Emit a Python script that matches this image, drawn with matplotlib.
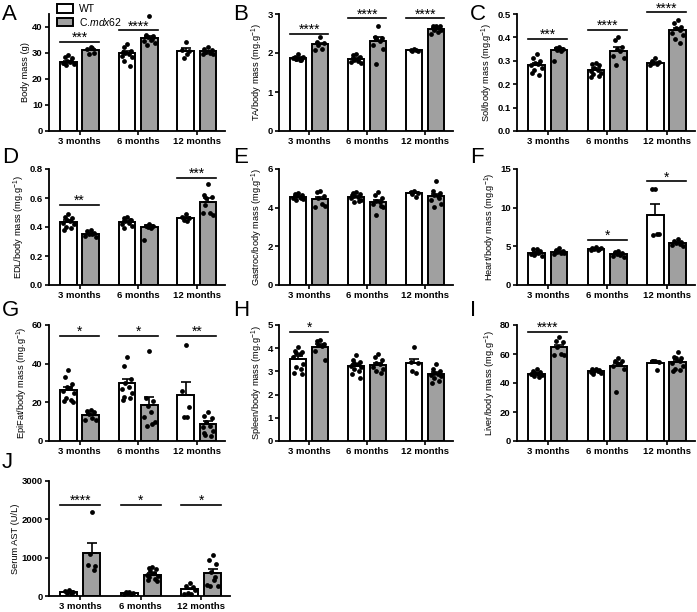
import numpy as np
import matplotlib
matplotlib.use('Agg')
import matplotlib.pyplot as plt
from matplotlib.patches import Patch

plt.rcParams['font.family'] = ['Liberation Sans', 'DejaVu Sans']
plt.rcParams['mathtext.fontset'] = 'custom'
plt.rcParams['mathtext.rm'] = 'Liberation Sans'
plt.rcParams['mathtext.it'] = 'Liberation Sans:italic'

groups = ['3 months', '6 months', '12 months']
wt_color = 'white'
ko_color = '#a0a0a0'

# A - body mass
body_wt = [[29.3, 28.5, 28.0, 27.0, 26.5, 26.0, 25.8, 25.5, 26.8, 26.2],
           [33.5, 32.2, 30.6, 30.0, 29.6, 29.0, 28.5, 27.0, 25.0, 30.5],
           [34.2, 31.0, 30.8, 28.2, 29.6]]
body_ko = [[32.2, 31.6, 30.0, 29.6, 31.8],
           [44.2, 37.0, 36.5, 36.0, 35.0, 34.5, 34.0, 33.0, 35.5],
           [32.5, 31.5, 31.0, 30.5, 30.0, 29.8, 29.5, 30.2]]
body_wt_mean = [26.7, 30.0, 30.8]
body_ko_mean = [31.1, 35.6, 30.6]

# B - TA
ta_wt = [[1.98, 1.90, 1.88, 1.85, 1.83, 1.87, 1.90, 1.85, 1.82],
         [1.98, 1.95, 1.90, 1.85, 1.80, 1.78, 1.75, 1.82, 1.88],
         [2.10, 2.08, 2.06, 2.05, 2.07]]
ta_ko = [[2.40, 2.28, 2.25, 2.20, 2.10, 2.08],
         [2.70, 2.40, 2.38, 2.35, 2.30, 2.20, 2.10, 1.72],
         [2.70, 2.70, 2.68, 2.60, 2.55, 2.50, 2.60, 2.62]]
ta_wt_mean = [1.87, 1.84, 2.07]
ta_ko_mean = [2.22, 2.31, 2.61]

# C - Sol
sol_wt = [[0.33, 0.31, 0.30, 0.29, 0.285, 0.28, 0.27, 0.26, 0.24, 0.25],
          [0.29, 0.285, 0.28, 0.27, 0.26, 0.255, 0.25, 0.245, 0.235, 0.23],
          [0.31, 0.30, 0.295, 0.29, 0.285, 0.28]]
sol_ko = [[0.36, 0.355, 0.35, 0.345, 0.34, 0.30],
          [0.40, 0.39, 0.36, 0.35, 0.34, 0.32, 0.31, 0.28],
          [0.475, 0.46, 0.445, 0.44, 0.43, 0.42, 0.41, 0.395, 0.375]]
sol_wt_mean = [0.283, 0.261, 0.291]
sol_ko_mean = [0.345, 0.343, 0.43]

# D - EDL
edl_wt = [[0.49, 0.47, 0.46, 0.45, 0.44, 0.43, 0.42, 0.40, 0.39, 0.38],
          [0.47, 0.46, 0.45, 0.44, 0.43, 0.42, 0.41, 0.39, 0.45],
          [0.49, 0.47, 0.46, 0.45, 0.44]]
edl_ko = [[0.38, 0.37, 0.36, 0.355, 0.35, 0.34, 0.33],
          [0.42, 0.41, 0.41, 0.40, 0.39, 0.31],
          [0.70, 0.62, 0.61, 0.60, 0.50, 0.50, 0.48, 0.55]]
edl_wt_mean = [0.435, 0.435, 0.46]
edl_ko_mean = [0.355, 0.40, 0.57]

# E - Gastroc
gas_wt = [[4.75, 4.70, 4.65, 4.60, 4.55, 4.50, 4.45, 4.40, 4.50],
          [4.80, 4.75, 4.70, 4.60, 4.55, 4.50, 4.40, 4.30, 4.35, 4.65],
          [4.85, 4.80, 4.75, 4.70, 4.55]]
gas_ko = [[4.85, 4.80, 4.60, 4.50, 4.20, 4.05, 4.10],
          [4.80, 4.65, 4.50, 4.35, 4.30, 4.20, 4.05, 3.60, 4.10],
          [5.40, 4.85, 4.75, 4.65, 4.60, 4.40, 4.20, 4.05, 4.50]]
gas_wt_mean = [4.55, 4.55, 4.75]
gas_ko_mean = [4.45, 4.28, 4.60]

# F - Heart
heart_wt = [[4.7, 4.6, 4.4, 4.2, 4.1, 4.0, 3.8, 3.9, 4.3],
            [4.9, 4.8, 4.7, 4.6, 4.5, 4.55, 4.75],
            [12.4, 12.4, 6.6, 6.5, 6.6]]
heart_ko = [[4.8, 4.5, 4.4, 4.3, 4.2, 4.0, 4.1],
            [4.4, 4.3, 4.2, 4.0, 3.9, 3.8, 3.6],
            [5.9, 5.7, 5.5, 5.4, 5.3, 5.2, 5.1]]
heart_wt_mean = [4.2, 4.65, 9.0]
heart_ko_mean = [4.3, 4.0, 5.4]

# G - EpiFat
epi_wt = [[36.5, 33.0, 29.5, 28.0, 27.5, 26.0, 25.0, 22.5, 21.0, 20.5, 20.0],
          [43.3, 39.0, 32.0, 30.0, 28.0, 27.0, 25.0, 23.0, 22.0, 21.0],
          [49.6, 26.0, 17.4, 12.2, 12.2]]
epi_ko = [[16.0, 15.5, 15.0, 14.0, 12.0, 11.0, 11.0],
          [46.5, 22.0, 20.5, 18.0, 15.0, 12.5, 10.0, 8.0, 9.0],
          [15.0, 13.0, 12.0, 10.0, 8.0, 7.0, 5.0, 3.0, 2.5, 4.0]]
epi_wt_mean = [26.5, 30.0, 23.7]
epi_ko_mean = [13.3, 18.7, 8.8]

# H - Spleen
spl_wt = [[4.05, 3.90, 3.85, 3.80, 3.75, 3.60, 3.30, 3.20, 3.10, 2.95, 2.90],
          [3.70, 3.50, 3.40, 3.35, 3.30, 3.25, 3.20, 3.10, 3.00, 2.90, 2.70],
          [4.05, 3.40, 3.35, 3.00, 2.95]]
spl_ko = [[4.35, 4.30, 4.20, 4.15, 4.10, 3.90, 3.50],
          [3.75, 3.60, 3.50, 3.35, 3.30, 3.20, 3.10, 3.00, 2.95],
          [3.30, 3.10, 3.00, 2.95, 2.90, 2.85, 2.80, 2.70, 2.60, 2.50]]
spl_wt_mean = [3.55, 3.25, 3.35]
spl_ko_mean = [4.05, 3.28, 2.88]

# I - Liver
liv_wt = [[50.0, 48.0, 47.5, 47.0, 46.5, 46.0, 45.5, 45.0, 44.0, 46.0],
          [50.0, 49.5, 49.0, 48.5, 48.0, 47.5, 47.0, 46.5, 48.0],
          [55.5, 55.0, 54.5, 55.0, 49.0]]
liv_ko = [[71.5, 69.0, 68.0, 65.0, 60.0, 59.5, 59.0],
          [57.0, 55.5, 55.0, 54.0, 53.0, 52.0, 50.0, 34.0],
          [61.5, 58.0, 57.5, 57.0, 55.0, 54.0, 52.0, 50.0, 49.0, 48.0]]
liv_wt_mean = [46.5, 48.3, 54.1]
liv_ko_mean = [64.5, 51.5, 54.5]

# J - Serum AST
ast_wt = [[150, 120, 100, 90, 80],
          [110, 100, 90, 80, 60, 40],
          [330, 270, 240, 80, 60, 40, 150]]
ast_ko = [[2200, 800, 780, 1100, 680],
          [750, 720, 700, 650, 600, 550, 530, 500, 450, 420, 400],
          [1080, 950, 830, 620, 420, 280, 250, 270, 500]]
ast_wt_mean = [110, 80, 170]
ast_ko_mean = [1110, 560, 590]

ylab_a = 'Body mass (g)'
ylab_b = 'TA/body mass (mg.g$^{-1}$)'
ylab_c = 'Sol/body mass (mg.g$^{-1}$)'
ylab_d = 'EDL/body mass (mg.g$^{-1}$)'
ylab_e = 'Gastroc/body mass (mg.g$^{-1}$)'
ylab_f = 'Heart/body mass (mg.g$^{-1}$)'
ylab_g = 'EpiFat/body mass (mg.g$^{-1}$)'
ylab_h = 'Spleen/body mass (mg.g$^{-1}$)'
ylab_i = 'Liver/body mass (mg.g$^{-1}$)'
ylab_j = 'Serum AST (U/L)'

# significance: (group index, star text, y of line)
sig_a = [(0, '***', 34.4), (1, '****', 38.7)]
sig_b = [(0, '****', 2.48), (1, '****', 2.89), (2, '****', 2.89)]
sig_c = [(0, '***', 0.392), (1, '****', 0.432), (2, '****', 0.507)]
sig_d = [(0, '**', 0.553), (2, '***', 0.737)]
sig_e = []
sig_f = [(1, '*', 5.8), (2, '*', 13.4)]
sig_g = [(0, '*', 54.3), (1, '*', 54.3), (2, '**', 54.3)]
sig_h = [(0, '*', 4.71)]
sig_i = [(0, '****', 75.4)]
sig_j = [(0, '****', 2380), (1, '*', 2380), (2, '*', 2380)]

panels = [
    ('A', body_wt, body_ko, body_wt_mean, body_ko_mean, ylab_a, (0, 45), [0, 10, 20, 30, 40], None, sig_a),
    ('B', ta_wt, ta_ko, ta_wt_mean, ta_ko_mean, ylab_b, (0, 3), [0, 1, 2, 3], None, sig_b),
    ('C', sol_wt, sol_ko, sol_wt_mean, sol_ko_mean, ylab_c, (0, 0.5), [0, 0.1, 0.2, 0.3, 0.4, 0.5], '%.1f', sig_c),
    ('D', edl_wt, edl_ko, edl_wt_mean, edl_ko_mean, ylab_d, (0, 0.8), [0, 0.2, 0.4, 0.6, 0.8], '%.1f', sig_d),
    ('E', gas_wt, gas_ko, gas_wt_mean, gas_ko_mean, ylab_e, (0, 6), [0, 2, 4, 6], None, sig_e),
    ('F', heart_wt, heart_ko, heart_wt_mean, heart_ko_mean, ylab_f, (0, 15), [0, 5, 10, 15], None, sig_f),
    ('G', epi_wt, epi_ko, epi_wt_mean, epi_ko_mean, ylab_g, (0, 60), [0, 20, 40, 60], None, sig_g),
    ('H', spl_wt, spl_ko, spl_wt_mean, spl_ko_mean, ylab_h, (0, 5), [0, 1, 2, 3, 4, 5], None, sig_h),
    ('I', liv_wt, liv_ko, liv_wt_mean, liv_ko_mean, ylab_i, (0, 80), [0, 20, 40, 60, 80], None, sig_i),
    ('J', ast_wt, ast_ko, ast_wt_mean, ast_ko_mean, ylab_j, (0, 3000), [0, 1000, 2000, 3000], None, sig_j),
]

W, H = 697, 612
fig = plt.figure(figsize=(W / 100, H / 100), dpi=100)

col_left = [49, 279, 517]
col_w = [176, 174, 178]
row_top = [14, 169, 325, 481]
row_h = [117, 116, 116, 115]

pattern = [0, -0.06, 0.06, -0.03, 0.03, -0.09, 0.09, -0.045, 0.045, -0.075, 0.075, 0.015]

def spread(n):
    return np.array(pattern[:n])

bw = 0.28
off = 0.19
for k, (letter, wt, ko, wtm, kom, ylab, ylim, yticks, fmt, sig) in enumerate(panels):
    r, c = divmod(k, 3)
    left = col_left[c]
    w = col_w[c] if letter != 'J' else 181
    ax = fig.add_axes([left / W, 1 - (row_top[r] + row_h[r]) / H, w / W, row_h[r] / H])
    x = np.arange(3)
    for g in range(3):
        for pts, m, xc, col in [(wt[g], wtm[g], x[g] - off, wt_color), (ko[g], kom[g], x[g] + off, ko_color)]:
            pts = np.array(pts, dtype=float)
            sem = pts.std(ddof=1) / np.sqrt(len(pts))
            ax.bar(xc, m, width=bw, color=col, edgecolor='black', linewidth=1.4, zorder=2)
            ax.errorbar(xc, m, yerr=[[0], [sem]], fmt='none', ecolor='black',
                        elinewidth=1.2, capsize=3.5, capthick=1.2, zorder=3)
            ax.scatter(xc + spread(len(pts)), pts, s=12, color='black', zorder=4, clip_on=False,
                       linewidths=0)
    for g, txt, yl in sig:
        x0 = x[g] - off - bw / 2
        x1 = x[g] + off + bw / 2
        ax.plot([x0, x1], [yl, yl], color='black', lw=1.2, clip_on=False, zorder=5)
        ax.annotate(txt, (x[g], yl), xytext=(0, 0), textcoords='offset points',
                    ha='center', va='baseline', fontsize=10, annotation_clip=False)
    ax.set_xlim(-0.52, 2.48)
    ax.set_ylim(*ylim)
    ax.set_yticks(yticks)
    if fmt:
        ax.set_yticklabels([fmt % t for t in yticks])
    ax.set_xticks(x)
    ax.set_xticklabels(groups)
    ax.set_ylabel(ylab, fontsize=6.7, labelpad=1.5)
    for lab in ax.get_xticklabels() + ax.get_yticklabels():
        lab.set_fontweight('bold')
        lab.set_fontsize(6.8)
    ax.tick_params(axis='both', width=1.2, length=3, pad=1.5)
    for s in ['top', 'right']:
        ax.spines[s].set_visible(False)
    for s in ['left', 'bottom']:
        ax.spines[s].set_linewidth(1.3)
    lx = [2, 233, 470][c] / W
    ly = 1 - ([4, 147, 300, 452][r]) / H
    fig.text(lx, ly, letter, fontsize=16, ha='left', va='top')
    if letter == 'A':
        handles = [Patch(facecolor=wt_color, edgecolor='black', linewidth=1.4, label='WT'),
                   Patch(facecolor=ko_color, edgecolor='black', linewidth=1.4, label='C.$\\mathit{mdx}$62')]
        ax.legend(handles=handles, loc='upper left', bbox_to_anchor=(0.02, 1.12), frameon=False,
                  fontsize=7.5, handlelength=1.6, handleheight=0.9, handletextpad=0.5,
                  labelspacing=0.15, borderaxespad=0)

fig.savefig('out.png', dpi=100)
